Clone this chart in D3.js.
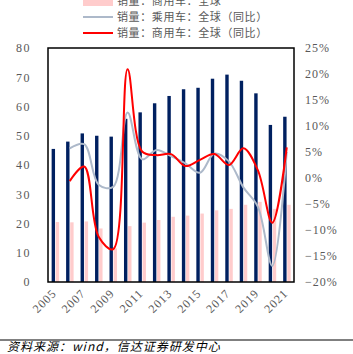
<!DOCTYPE html>
<html>
<head>
<meta charset="utf-8">
<script src="https://cdn.jsdelivr.net/npm/d3@7"></script>
<style>
  body { margin: 0; background: #fff; }
  svg { display: block; }
</style>
</head>
<body>
<div id="chart"></div>
<script>
// years on the x axis
const years = d3.range(2005, 2022).map(String)
const tickYears = ['2005', '2007', '2009', '2011', '2013', '2015', '2017', '2019', '2021']

// sales, million units (left axis)
const passenger = [45.5, 48.0, 50.8, 50.0, 49.7, 55.8, 58.0, 61.1, 63.6, 65.9, 66.4, 69.5, 70.9, 68.8, 64.5, 53.7, 56.5]
const commercial = [20.5, 20.4, 20.7, 18.3, 11.5, 19.1, 20.3, 21.2, 22.3, 22.7, 23.4, 24.5, 25.0, 26.4, 27.4, 25.0, 26.4]

// yoy growth, % (right axis), starts 2006
const passengerYoy = [null, 5.7, 6.5, -1.3, -1.7, 12.6, 3.6, 5.4, 4.2, 2.8, 1.0, 4.7, 3.2, -1.8, -5.5, -16.9, 5.0]
const commercialYoy = [null, -0.6, 2.2, -11.3, -13.7, 20.9, 5.1, 4.4, 4.6, 2.3, 3.5, 4.6, 2.5, 5.7, 1.5, -8.6, 5.9]

const leftTicks = d3.range(0, 81, 10)
const rightTicks = d3.range(-20, 26, 5)

const legendLabels = ['销量：乘用车：全球', '销量：商用车：全球', '销量：乘用车：全球（同比）', '销量：商用车：全球（同比）']

const width = 353
const height = 354
const margin = { top: 48, right: 59, bottom: 72, left: 48 }
const innerW = width - margin.left - margin.right
const innerH = height - margin.top - margin.bottom

const navy = '#002060'
const pink = '#ffcccc'
const grey = '#adb9ca'
const red = '#ff0000'
const tickColor = '#595959'
const tickFont = '"Liberation Serif", "DejaVu Serif", serif'
const cjkFont = '"Noto Sans CJK SC", sans-serif'

const svg = d3.select('#chart')
  .append('svg')
  .attr('width', width)
  .attr('height', height)

const g = svg.append('g')
  .attr('transform', `translate(${margin.left},${margin.top})`)

// scales
const xs = d3.scaleBand().domain(years).range([0, innerW])
const yl = d3.scaleLinear().domain([0, 80]).range([innerH, 0])
const yr = d3.scaleLinear().domain([-20, 25]).range([innerH, 0])
const cx = (d) => xs(d) + xs.bandwidth() / 2
const barW = 3.4

// bars
g.selectAll('.bar-p')
  .data(years)
  .enter()
  .append('rect')
  .attr('x', (d) => cx(d) - barW - 0.2)
  .attr('y', (d, i) => yl(passenger[i]))
  .attr('width', barW)
  .attr('height', (d, i) => innerH - yl(passenger[i]))
  .attr('fill', navy)

g.selectAll('.bar-c')
  .data(years)
  .enter()
  .append('rect')
  .attr('x', (d) => cx(d) + 0.5)
  .attr('y', (d, i) => yl(commercial[i]))
  .attr('width', barW)
  .attr('height', (d, i) => innerH - yl(commercial[i]))
  .attr('fill', pink)

// smooth yoy lines
const line = d3.line()
  .x((d) => cx(d.year))
  .y((d) => yr(d.v))
  .curve(d3.curveCatmullRom.alpha(0.5))

const toPts = (arr) => years.map((y, i) => ({ year: y, v: arr[i] })).filter((d) => d.v != null)

g.append('path')
  .datum(toPts(passengerYoy))
  .attr('d', line)
  .attr('fill', 'none')
  .attr('stroke', grey)
  .attr('stroke-width', 2)

g.append('path')
  .datum(toPts(commercialYoy))
  .attr('d', line)
  .attr('fill', 'none')
  .attr('stroke', red)
  .attr('stroke-width', 2)

// frame
g.append('rect')
  .attr('x', 0)
  .attr('y', 0)
  .attr('width', innerW)
  .attr('height', innerH)
  .attr('fill', 'none')
  .attr('stroke', '#000')
  .attr('stroke-width', 1.5)

// left axis
const leftAxis = g.append('g')
  .call(d3.axisLeft(yl).tickValues(leftTicks).tickSize(0).tickPadding(17))
  .call((a) => a.select('.domain').remove())
leftAxis.selectAll('text')
  .attr('fill', tickColor)
  .style('font-family', tickFont)
  .style('font-size', '12px')
  .style('letter-spacing', '1.5px')

// right axis
const rightAxis = g.append('g')
  .attr('transform', `translate(${innerW},0)`)
  .call(d3.axisRight(yr).tickValues(rightTicks).tickSize(0).tickPadding(11)
    .tickFormat((d) => (d < 0 ? '−' : '') + Math.abs(d) + '%'))
  .call((a) => a.select('.domain').remove())
rightAxis.selectAll('text')
  .attr('fill', tickColor)
  .style('font-family', tickFont)
  .style('font-size', '12px')
  .style('letter-spacing', '1px')

// bottom axis, rotated years
const bottomAxis = g.append('g')
  .attr('transform', `translate(0,${innerH})`)
  .call(d3.axisBottom(xs).tickValues(tickYears).tickSize(0).tickPadding(0))
  .call((a) => a.select('.domain').remove())
bottomAxis.selectAll('text')
  .attr('fill', tickColor)
  .style('font-family', tickFont)
  .style('font-size', '12px')
  .style('letter-spacing', '1px')
  .style('text-anchor', 'end')
  .attr('dy', '0')
  .attr('transform', 'translate(2,12) rotate(-45)')

// legend (first row sits above the visible area)
const legend = svg.append('g')
const rowY = [-15, 1, 17, 33]
legendLabels.forEach((lab, i) => {
  const row = legend.append('g').attr('transform', `translate(0,${rowY[i]})`)
  if (i < 2) {
    row.append('rect')
      .attr('x', 83).attr('y', -5).attr('width', 30).attr('height', 10)
      .attr('fill', i === 0 ? navy : pink)
  } else {
    row.append('line')
      .attr('x1', 83).attr('x2', 113).attr('y1', 0).attr('y2', 0)
      .attr('stroke', i === 2 ? grey : red).attr('stroke-width', 2)
  }
  row.append('text')
    .attr('x', 117)
    .attr('y', 4)
    .attr('fill', tickColor)
    .style('font-family', cjkFont)
    .style('font-size', '11px')
    .style('letter-spacing', '0.6px')
    .text(lab)
})

// source note
svg.append('line')
  .attr('x1', 0).attr('x2', width)
  .attr('y1', 340).attr('y2', 340)
  .attr('stroke', '#000').attr('stroke-width', 1)
svg.append('text')
  .attr('x', 7)
  .attr('y', 351)
  .attr('fill', '#000')
  .style('font-family', cjkFont)
  .style('font-size', '12px')
  .style('font-style', 'italic')
  .style('letter-spacing', '1px')
  .text('资料来源：wind，信达证券研发中心')
</script>
</body>
</html>
